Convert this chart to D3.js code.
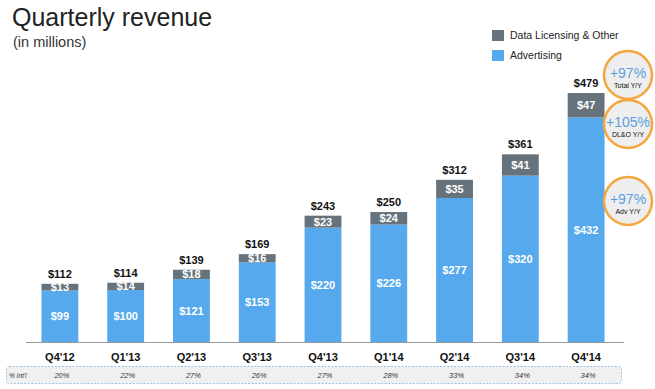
<!DOCTYPE html>
<html>
<head>
<meta charset="utf-8">
<script src="https://cdn.jsdelivr.net/npm/d3@7"></script>
<style>
  body { margin: 0; background: #fff; }
  svg { display: block; font-family: "Liberation Sans", Arial, sans-serif; }
</style>
</head>
<body>
<div id="chart"></div>
<script>
// quarterly revenue, in millions
var quarters = ["Q4'12", "Q1'13", "Q2'13", "Q3'13", "Q4'13", "Q1'14", "Q2'14", "Q3'14", "Q4'14"];
var advertising = [99, 100, 121, 153, 220, 226, 277, 320, 432];
var dataLicensing = [13, 14, 18, 16, 23, 24, 35, 41, 47];
var totals = [112, 114, 139, 169, 243, 250, 312, 361, 479];
var intlShare = ["20%", "22%", "27%", "26%", "27%", "28%", "33%", "34%", "34%"];

var growthValues = ["+97%", "+105%", "+97%"];
var growthLabels = ["Total Y/Y", "DL&O Y/Y", "Adv Y/Y"];

var width = 655,
    height = 389,
    blue = "#55a9ec",
    grey = "#66737d";

var svg = d3.select("#chart").append("svg")
    .attr("width", width).attr("height", height);

var x = d3.scaleBand()
    .domain(quarters)
    .range([27, 619])
    .paddingInner(0.44)
    .paddingOuter(0.22);

var y = d3.scaleLinear()
    .domain([0, 479])
    .range([342, 93]);

// title
svg.append("text")
    .attr("x", 12).attr("y", 26)
    .attr("font-size", 25)
    .attr("fill", "#222")
    .text("Quarterly revenue");

svg.append("text")
    .attr("x", 13).attr("y", 47)
    .attr("font-size", 14.5)
    .attr("fill", "#333")
    .text("(in millions)");

// legend
var legend = [["Data Licensing & Other", grey], ["Advertising", blue]];
legend.forEach(function(d, i) {
    svg.append("rect")
        .attr("x", 492).attr("y", 30 + i * 20)
        .attr("width", 12).attr("height", 11)
        .attr("fill", d[1]);
    svg.append("text")
        .attr("x", 510).attr("y", 39 + i * 20)
        .attr("font-size", 10.5)
        .attr("fill", "#222")
        .text(d[0]);
});

var rows = quarters.map(function(q, i) {
    return { q: q, adv: advertising[i], dl: dataLicensing[i], total: totals[i], intl: intlShare[i] };
});

var bars = svg.selectAll(".bar").data(rows).enter().append("g")
    .attr("class", "bar");

// advertising segment
bars.append("rect")
    .attr("x", function(d) { return x(d.q); })
    .attr("y", function(d) { return y(d.adv); })
    .attr("width", x.bandwidth())
    .attr("height", function(d) { return y(0) - y(d.adv); })
    .attr("fill", blue);

// data licensing segment
bars.append("rect")
    .attr("x", function(d) { return x(d.q); })
    .attr("y", function(d) { return y(d.adv + d.dl); })
    .attr("width", x.bandwidth())
    .attr("height", function(d) { return y(d.adv) - y(d.adv + d.dl); })
    .attr("fill", grey);

var cx = function(d) { return x(d.q) + x.bandwidth() / 2; };

bars.append("text")
    .attr("x", cx)
    .attr("y", function(d) { return (y(0) + y(d.adv)) / 2 + 4; })
    .attr("text-anchor", "middle")
    .attr("font-size", 11).attr("font-weight", "bold")
    .attr("fill", "#fff")
    .text(function(d) { return "$" + d.adv; });

bars.append("text")
    .attr("x", cx)
    .attr("y", function(d) { return (y(d.adv) + y(d.adv + d.dl)) / 2 + 4; })
    .attr("text-anchor", "middle")
    .attr("font-size", 11).attr("font-weight", "bold")
    .attr("fill", "#fff")
    .text(function(d) { return "$" + d.dl; });

bars.append("text")
    .attr("x", cx)
    .attr("y", function(d) { return y(d.total) - 6; })
    .attr("text-anchor", "middle")
    .attr("font-size", 11).attr("font-weight", "bold")
    .attr("fill", "#111")
    .text(function(d) { return "$" + d.total; });

// axis
var axis = svg.append("g")
    .attr("transform", "translate(0," + y(0) + ")")
    .call(d3.axisBottom(x).tickSize(0).tickPadding(11));
axis.select(".domain")
    .attr("d", "M26,0.5H624")
    .attr("stroke", "#999");
axis.selectAll("text")
    .attr("font-family", "Liberation Sans, Arial, sans-serif")
    .attr("font-size", 11).attr("font-weight", "bold")
    .attr("fill", "#111");

// % international row
svg.append("rect")
    .attr("x", 6.5).attr("y", 366.5)
    .attr("width", 615).attr("height", 17)
    .attr("rx", 3)
    .attr("fill", "#f0f0f0")
    .attr("stroke", "#9cc2e5")
    .attr("stroke-dasharray", "2,1.5");

svg.append("text")
    .attr("x", 9).attr("y", 378)
    .attr("font-size", 6.5).attr("font-style", "italic")
    .attr("fill", "#333")
    .text("% Int'l");

svg.selectAll(".intl").data(rows).enter().append("text")
    .attr("class", "intl")
    .attr("x", function(d) { return cx(d) + 2; })
    .attr("y", 378)
    .attr("text-anchor", "middle")
    .attr("font-size", 7.5).attr("font-style", "italic")
    .attr("fill", "#333")
    .text(function(d) { return d.intl; });

// growth badges
var badgeY = [75, 124, 201];
var badges = svg.selectAll(".badge").data(growthValues).enter().append("g")
    .attr("class", "badge")
    .attr("transform", function(d, i) { return "translate(628," + badgeY[i] + ")"; });

badges.append("circle")
    .attr("r", 24)
    .attr("fill", "#eeeeee")
    .attr("stroke", "#f4a640")
    .attr("stroke-width", 2.5);

badges.append("text")
    .attr("y", 3)
    .attr("text-anchor", "middle")
    .attr("font-size", 14)
    .attr("fill", "#5b9fde")
    .text(function(d) { return d; });

badges.append("text")
    .attr("y", 13)
    .attr("text-anchor", "middle")
    .attr("font-size", 7)
    .attr("fill", "#111")
    .text(function(d, i) { return growthLabels[i]; });
</script>
</body>
</html>
